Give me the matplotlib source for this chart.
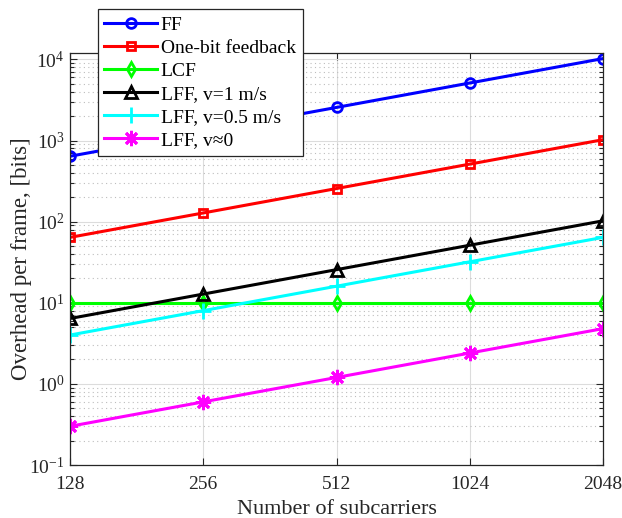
import numpy as np
import matplotlib
matplotlib.use('Agg')
import matplotlib.pyplot as plt
from matplotlib.ticker import FixedLocator, NullFormatter, LogLocator, NullLocator

plt.rcParams['font.family'] = ['Liberation Serif', 'DejaVu Serif']
plt.rcParams['mathtext.fontset'] = 'custom'
plt.rcParams['mathtext.rm'] = 'Liberation Serif'

# data
subcarriers = [128, 256, 512, 1024, 2048]
ff = [640, 1280, 2560, 5120, 10240]
one_bit = [64, 128, 256, 512, 1024]
lcf = [10, 10, 10, 10, 10]
lff_v1 = [6.4, 12.8, 25.6, 51.2, 102.4]
lff_v05 = [4, 8, 16, 32, 64]
lff_v0 = [0.3, 0.6, 1.2, 2.4, 4.8]

series = [
    (ff, 'FF', (0, 0, 1), 'o', 7),
    (one_bit, 'One-bit feedback', (1, 0, 0), 's', 6),
    (lcf, 'LCF', (0, 1, 0), 'd', 7),
    (lff_v1, 'LFF, v=1 m/s', (0, 0, 0), '^', 8),
    (lff_v05, 'LFF, v=0.5 m/s', (0, 1, 1), '+', 11),
    (lff_v0, 'LFF, v\u22480', (1, 0, 1), (8, 2, 0), 11),
]

fig = plt.figure(figsize=(6.22, 5.18), dpi=100)
ax = fig.add_axes([0.1125, 0.1023, 0.857, 0.7954])

for y, label, color, marker, ms in series:
    ax.plot(subcarriers, y, color=color, lw=2.2, marker=marker,
            markersize=ms, markerfacecolor='none', markeredgecolor=color,
            markeredgewidth=2, label=label)

ax.set_xscale('log', base=2)
ax.set_yscale('log')
ax.set_xlim(128, 2048)
ax.set_ylim(0.1, 1.2e4)

ax.xaxis.set_major_locator(FixedLocator(subcarriers))
ax.set_xticklabels([str(s) for s in subcarriers])
ax.xaxis.set_minor_locator(NullLocator())
ax.yaxis.set_major_locator(LogLocator(base=10, numticks=10))
ax.yaxis.set_minor_locator(LogLocator(base=10, subs=np.arange(2, 10), numticks=20))
ax.yaxis.set_minor_formatter(NullFormatter())

ax.grid(True, which='major', color='#dcdcdc', lw=0.8, ls='-')
ax.grid(True, which='minor', axis='y', color='#bdbdbd', lw=0.8, ls=(0, (1, 3)))
ax.set_axisbelow(True)

ax.tick_params(which='both', direction='in', top=True, right=True,
               labelsize=14, colors='#262626')
ax.tick_params(which='major', length=5, width=0.8)
ax.tick_params(which='minor', length=3, width=0.8)
for sp in ax.spines.values():
    sp.set_color('#262626')
    sp.set_linewidth(0.9)
ax.tick_params(axis='x', pad=8)
ax.tick_params(axis='y', pad=4)

ax.set_xlabel('Number of subcarriers', fontsize=16, color='#262626')
ax.set_ylabel('Overhead per frame, [bits]', fontsize=16.5, color='#262626')
ax.xaxis.set_label_coords(0.5, -0.084)
ax.yaxis.set_label_coords(-0.072, 0.5)

leg = ax.legend(loc='upper left', bbox_to_anchor=(0.157, 0.982),
                bbox_transform=fig.transFigure, fontsize=14,
                frameon=True, fancybox=False, framealpha=1,
                edgecolor='#262626', borderpad=0.35, labelspacing=0.28,
                handlelength=2.7, handletextpad=0.2, borderaxespad=0)
leg.get_frame().set_linewidth(0.9)

fig.savefig('out.png', dpi=100)
